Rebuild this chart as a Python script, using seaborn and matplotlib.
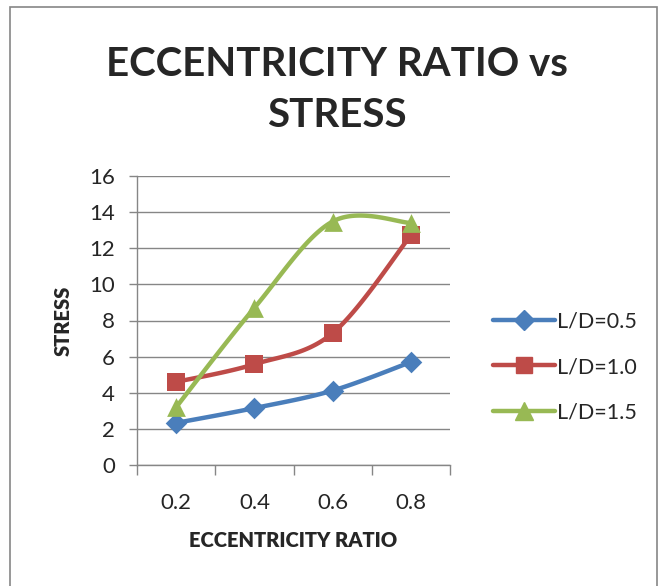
import numpy as np
import pandas as pd
import matplotlib
matplotlib.use("Agg")
import matplotlib.pyplot as plt
from matplotlib.lines import Line2D
from matplotlib.patches import Rectangle
import seaborn as sns

# ---- data ----
categories = ["0.2", "0.4", "0.6", "0.8"]
ld_05 = [2.33, 3.15, 4.12, 5.70]
ld_10 = [4.60, 5.58, 7.30, 12.72]
ld_15 = [3.20, 8.70, 13.48, 13.40]
series_names = ["L/D=0.5", "L/D=1.0", "L/D=1.5"]
y_ticks = [0, 2, 4, 6, 8, 10, 12, 14, 16]
title_text = "ECCENTRICITY RATIO vs\nSTRESS"
x_label = "ECCENTRICITY RATIO"
y_label = "STRESS"

colors = ["#4A7EBB", "#BE4B48", "#98B954"]
markers = ["D", "s", "^"]
msizes = [11, 12.5, 13.5]

sns.set_theme(style="white")
plt.rcParams["font.family"] = ["Lato", "DejaVu Sans"]


def smooth(xs, ys, n=40):
    """Excel-like smoothed line: cubic Bezier with Catmull-Rom control points (1/6)."""
    pts = np.column_stack([xs, ys]).astype(float)
    out = []
    m = len(pts)
    for i in range(m - 1):
        p0 = pts[i - 1] if i > 0 else pts[i]
        p1 = pts[i]
        p2 = pts[i + 1]
        p3 = pts[i + 2] if i + 2 < m else pts[i + 1]
        c1 = p1 + (p2 - p0) / 6.0
        c2 = p2 - (p3 - p1) / 6.0
        t = np.linspace(0, 1, n)[:, None]
        seg = ((1 - t) ** 3) * p1 + 3 * ((1 - t) ** 2) * t * c1 + 3 * (1 - t) * t ** 2 * c2 + t ** 3 * p2
        if i > 0:
            seg = seg[1:]
        out.append(seg)
    return np.vstack(out)


pos = np.arange(len(categories))
all_vals = [ld_05, ld_10, ld_15]

rows = []
for name, vals in zip(series_names, all_vals):
    curve = smooth(pos, vals)
    for k, (cx, cy) in enumerate(curve):
        rows.append({"series": name, "order": k, "x": cx, "y": cy})
curve_df = pd.DataFrame(rows)

pts_df = pd.DataFrame({
    "series": np.repeat(series_names, len(categories)),
    "x": np.tile(pos, len(series_names)),
    "y": np.concatenate(all_vals),
})

W, H = 664, 586
fig = plt.figure(figsize=(W / 100, H / 100), dpi=100)
ax = fig.add_axes([137 / W, 1 - 465 / H, 313 / W, 289 / H])

palette = dict(zip(series_names, colors))
sns.lineplot(data=curve_df, x="x", y="y", hue="series", palette=palette,
             sort=False, estimator=None, units="series", linewidth=3.2,
             legend=False, ax=ax)
for name, mk, ms, col in zip(series_names, markers, msizes, colors):
    sub = pts_df[pts_df["series"] == name]
    sns.scatterplot(data=sub, x="x", y="y", marker=mk, s=ms ** 2, color=col,
                    edgecolor=col, linewidth=0, ax=ax, legend=False, zorder=5)

ax.set_xlim(-0.5, len(categories) - 0.5)
ax.set_ylim(0, 16)
ax.set_yticks(y_ticks)
ax.set_yticklabels([str(v) for v in y_ticks], fontsize=16)
ax.set_xticks(pos)
ax.set_xticklabels(categories, fontsize=16)
ax.set_xticks(np.arange(-0.5, len(categories), 1.0), minor=True)
ax.tick_params(axis="x", which="major", length=0, pad=20)
ax.tick_params(axis="x", which="minor", length=7, width=1, color="#868686", direction="out", bottom=True)
ax.tick_params(axis="y", which="major", length=6, width=1, color="#868686", direction="out", left=True, pad=10)
ax.grid(axis="y", color="#868686", linewidth=1)
ax.grid(axis="x", visible=False)
ax.set_axisbelow(True)
for side in ["top", "right"]:
    ax.spines[side].set_visible(False)
for side in ["left", "bottom"]:
    ax.spines[side].set_color("#868686")
    ax.spines[side].set_linewidth(1)

ax.set_xlabel(x_label, fontsize=14.5, fontweight="heavy", labelpad=13)
ax.set_ylabel(y_label, fontsize=14.5, fontweight="heavy", labelpad=12)

fig.text(337 / W, 1 - 90 / H, title_text, ha="center", va="center",
         fontsize=29, fontweight="bold", linespacing=1.45)

handles = [Line2D([0], [0], color=c, marker=m, markersize=ms * 0.95, linewidth=3.2)
           for c, m, ms in zip(colors, markers, msizes)]
leg = fig.legend(handles, series_names, loc="center left",
                 bbox_to_anchor=(484 / W, 1 - 367 / H), frameon=False,
                 fontsize=15.5, handlelength=2.9, handletextpad=0.1,
                 labelspacing=1.2, borderaxespad=0)

fig.patches.append(Rectangle((10 / W, -0.02), 647 / W, 1 - 7 / H + 0.02,
                             transform=fig.transFigure, fill=False,
                             edgecolor="#868686", linewidth=1.2))

fig.savefig("out.png", dpi=100)
